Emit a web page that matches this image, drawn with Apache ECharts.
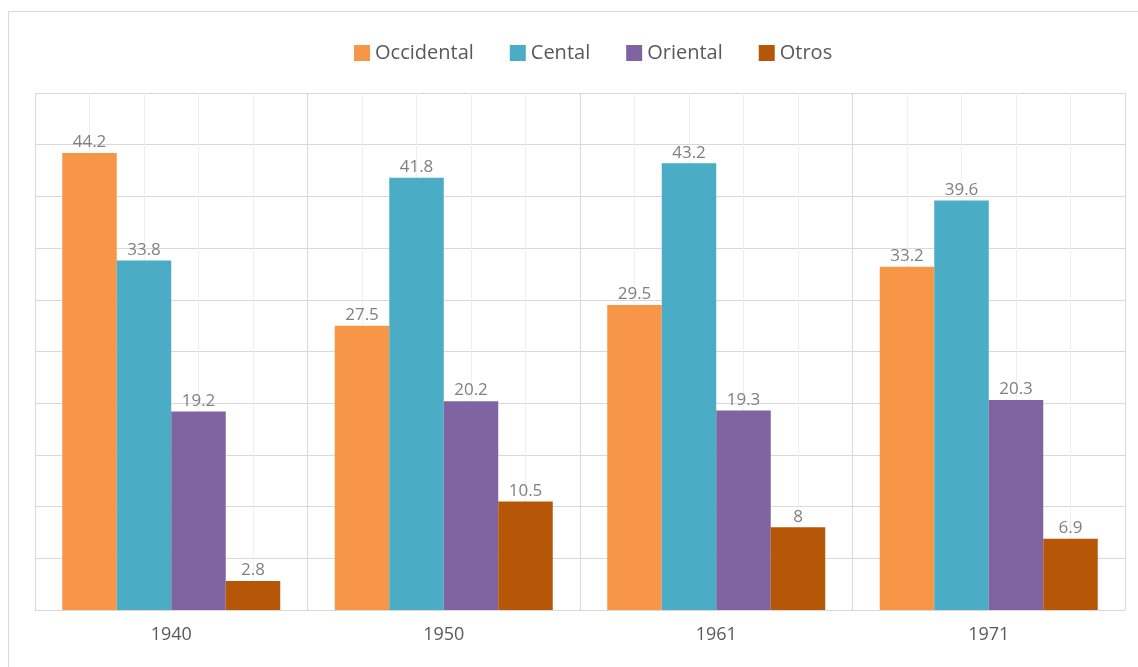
<!DOCTYPE html>
<html>
<head>
<meta charset="utf-8">
<script src="https://cdn.jsdelivr.net/npm/echarts@6/dist/echarts.min.js"></script>
<style>
  html, body { margin: 0; padding: 0; background: #fff; }
  .frame { position: absolute; left: 8px; top: 11px; width: 1140px; height: 670px; border: 1px solid #d9d9d9; box-sizing: border-box; }
  #chart { width: 1138px; height: 667px; }
</style>
</head>
<body>
<div class="frame"></div>
<div id="chart"></div>
<script>
// 数据
const years = ['1940', '1950', '1961', '1971']
const occidental = [44.2, 27.5, 29.5, 33.2]
const cental = [33.8, 41.8, 43.2, 39.6]
const oriental = [19.2, 20.2, 19.3, 20.3]
const otros = [2.8, 10.5, 8, 6.9]

const font = '"Open Sans", sans-serif'

const chartInstance = echarts.init(document.getElementById('chart'))

const makeSeries = (name, data, color) => ({
  name,
  type: 'bar',
  data,
  barGap: '0%',
  barCategoryGap: '20%',
  itemStyle: { color },
  label: {
    show: true,
    position: 'top',
    distance: 2,
    color: '#808080',
    fontSize: 17,
    fontFamily: font
  }
})

const option = {
  animation: false,
  legend: {
    top: 38,
    left: 349,
    itemWidth: 16,
    itemHeight: 16,
    itemGap: 36,
    icon: 'rect',
    textStyle: { color: '#595959', fontSize: 20, fontFamily: font }
  },
  grid: { left: 35, right: 13, top: 93, bottom: 57 },
  xAxis: [
    {
      type: 'category',
      data: years,
      axisLine: { show: true, lineStyle: { color: '#d9d9d9' } },
      axisTick: { show: false },
      splitLine: { show: false },
      axisLabel: { color: '#595959', fontSize: 18, fontFamily: font, margin: 16 }
    },
    {
      type: 'value',
      position: 'bottom',
      min: 0,
      max: years.length,
      interval: 1,
      axisLine: { show: false },
      axisTick: { show: false },
      axisLabel: { show: false },
      splitLine: { show: true, lineStyle: { color: '#d9d9d9', width: 1 } },
      minorTick: { show: false, splitNumber: 5 },
      minorSplitLine: { show: true, lineStyle: { color: '#efefef', width: 1 } }
    }
  ],
  yAxis: {
    type: 'value',
    min: 0,
    max: 50,
    interval: 5,
    axisLine: { show: false },
    axisTick: { show: false },
    axisLabel: { show: false },
    splitLine: { show: true, lineStyle: { color: '#d9d9d9', width: 1 } }
  },
  series: [
    makeSeries('Occidental', occidental, '#F79646'),
    makeSeries('Cental', cental, '#4BACC6'),
    makeSeries('Oriental', oriental, '#8064A2'),
    makeSeries('Otros', otros, '#B65708')
  ]
}

chartInstance.setOption(option)
window.addEventListener('resize', () => chartInstance.resize())
</script>
</body>
</html>
